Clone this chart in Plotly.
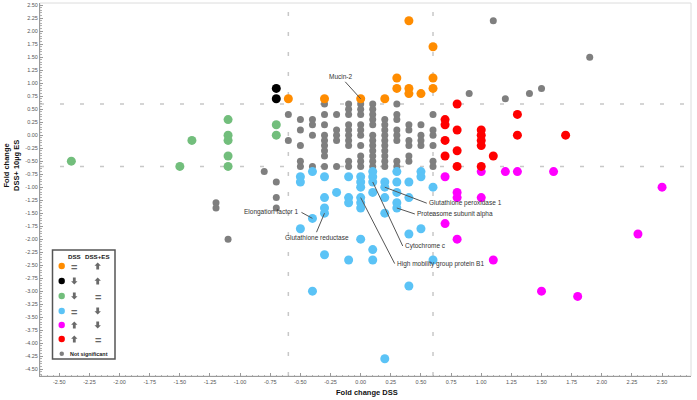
import plotly.graph_objects as go

# ---------------- data ----------------
gray_x = [-1.2, -1.2, -1.1, -0.8, -0.7, -0.7, -0.7, 0.9, 1.1, 1.2, 1.4, 1.5, 1.9,
          -0.6, -0.6,
          -0.5, -0.5, -0.5, -0.5, -0.5,
          -0.4, -0.4, -0.4, -0.4,
          -0.3, -0.3, -0.3, -0.3, -0.3, -0.3, -0.3, -0.3, -0.3,
          -0.2, -0.2, -0.2, -0.2, -0.2,
          -0.1, -0.1, -0.1, -0.1, -0.1, -0.1, -0.1, -0.1, -0.1, -0.1,
          0.0, 0.0, 0.0, 0.0, 0.0, 0.0, 0.0, 0.0, 0.0, 0.0,
          0.1, 0.1, 0.1, 0.1, 0.1, 0.1, 0.1, 0.1, 0.1, 0.1, 0.1, 0.1,
          0.2, 0.2, 0.2, 0.2, 0.2, 0.2, 0.2, 0.2, 0.2, 0.2,
          0.3, 0.3, 0.3, 0.3, 0.3, 0.3, 0.3, 0.3,
          0.4, 0.4, 0.4, 0.4, 0.4, 0.4,
          0.5, 0.5, 0.5, 0.5,
          0.6, 0.6, 0.6, 0.6, 0.6, 0.6]
gray_y = [-1.3, -1.4, -2.0, -0.7, -0.9, -1.2, -1.4, 0.8, 2.2, 0.7, 0.8, 0.9, 1.5,
          0.4, -0.1,
          0.3, 0.1, -0.2, -0.5, -0.6,
          0.3, 0.2, 0.0, -0.6,
          0.6, 0.4, 0.2, 0.0, -0.1, -0.2, -0.3, -0.4, -0.6,
          0.4, 0.1, 0.0, -0.1, -0.6,
          0.6, 0.5, 0.4, 0.2, 0.1, 0.0, -0.1, -0.2, -0.5, -0.6,
          0.6, 0.5, 0.4, 0.2, 0.1, 0.0, -0.2, -0.4, -0.5, -0.6,
          0.6, 0.5, 0.4, 0.3, 0.2, 0.0, -0.1, -0.2, -0.3, -0.4, -0.5, -0.6,
          0.3, 0.2, 0.1, 0.0, -0.1, -0.2, -0.3, -0.4, -0.5, -0.6,
          0.6, 0.4, 0.3, 0.1, 0.0, -0.1, -0.5, -0.6,
          0.2, 0.1, -0.1, -0.2, -0.4, -0.5,
          0.2, 0.0, -0.1, -0.2,
          0.4, 0.1, 0.0, -0.2, -0.5, -0.6]

orange_x = [0.4, 0.6, 0.3, 0.6, 0.3, 0.4, 0.4, 0.5, 0.6, 0.2, 0.0, -0.3, -0.6]
orange_y = [2.2, 1.7, 1.1, 1.1, 0.9, 0.9, 0.8, 0.8, 0.9, 0.7, 0.7, 0.7, 0.7]

black_x = [-0.7, -0.7]
black_y = [0.9, 0.7]

green_x = [-2.4, -1.5, -1.4, -1.1, -1.1, -1.1, -1.1, -1.1, -0.7, -0.7]
green_y = [-0.5, -0.6, -0.1, 0.3, 0.0, -0.1, -0.4, -0.6, 0.2, 0.0]

blue_x = [-0.5, -0.5, -0.4, -0.3, -0.1, 0.0, 0.0, 0.0, 0.1, 0.1, 0.1, 0.1, 0.2, 0.2,
          0.3, 0.3, 0.4, 0.5, 0.5, 0.6, -0.3, -0.2, -0.1, -0.1, 0.0, 0.0, 0.0, 0.2,
          0.3, 0.3, 0.3, 0.4, 0.2, -0.3, -0.3, -0.4, -0.5, 0.4, 0.5, 0.0, 0.1, -0.3,
          -0.1, 0.1, 0.6, -0.4, 0.4, 0.2]
blue_y = [-0.8, -0.9, -0.7, -0.8, -0.8, -0.8, -0.9, -1.0, -0.7, -0.8, -0.9, -1.1, -0.9, -1.0,
          -0.7, -0.9, -0.9, -0.7, -0.8, -1.0, -1.2, -1.1, -1.2, -1.3, -1.2, -1.3, -1.4, -1.2,
          -1.1, -1.3, -1.4, -1.2, -1.5, -1.4, -1.5, -1.6, -1.8, -1.9, -1.8, -2.0, -2.2, -2.3,
          -2.4, -2.4, -2.4, -3.0, -2.9, -4.3]

magenta_x = [0.7, 1.0, 1.2, 1.3, 1.6, 2.5, 0.8, 0.8, 1.0, 0.7, 0.8, 1.1, 2.3, 1.5, 1.8]
magenta_y = [-0.8, -0.7, -0.7, -0.7, -0.7, -1.0, -1.1, -1.2, -1.2, -1.7, -2.0, -2.4, -1.9, -3.0, -3.1]

red_x = [0.8, 0.7, 0.7, 0.8, 1.0, 1.3, 1.0, 1.3, 1.7, 0.7, 1.0, 1.0, 0.8, 0.7, 1.1, 0.8, 1.0]
red_y = [0.6, 0.3, 0.2, 0.1, 0.1, 0.4, 0.0, 0.0, 0.0, -0.1, -0.1, -0.2, -0.3, -0.4, -0.4, -0.6, -0.6]

label_names = ["Mucin-2", "Glutathione peroxidase 1", "Proteasome subunit alpha",
               "Cytochrome c", "High mobility group protein B1",
               "Elongation factor 1", "Glutathione reductase"]
label_x = [0.0, 0.2, 0.3, 0.1, 0.0, -0.4, -0.3]
label_y = [0.7, -1.0, -1.4, -0.9, -1.2, -1.6, -1.5]

threshold = 0.6

x_tick_vals = [round(-2.5 + 0.25 * i, 2) for i in range(21)]
x_tick_labels = ["%.2f" % v for v in x_tick_vals]
y_tick_vals = [round(-4.5 + 0.25 * i, 2) for i in range(29)]
y_tick_labels = ["%.2f" % v for v in y_tick_vals]

legend_colors = ["#FF8C00", "#000000", "#72BE7C", "#5BC3F6", "#FF00FF", "#FF0000"]
legend_dss = ["=", "down", "down", "=", "up", "up"]
legend_dsses = ["up", "up", "=", "down", "down", "="]

# ---------------- figure ----------------
FONT = "Liberation Sans, Arial, sans-serif"
fig = go.Figure()

fig.add_trace(go.Scatter(x=gray_x, y=gray_y, mode="markers",
                         marker=dict(size=7, color="#7F7F7F"), hoverinfo="x+y"))
for xs, ys, col in [(orange_x, orange_y, legend_colors[0]),
                    (black_x, black_y, legend_colors[1]),
                    (green_x, green_y, legend_colors[2]),
                    (blue_x, blue_y, legend_colors[3]),
                    (magenta_x, magenta_y, legend_colors[4]),
                    (red_x, red_y, legend_colors[5])]:
    fig.add_trace(go.Scatter(x=xs, y=ys, mode="markers",
                             marker=dict(size=9, color=col), hoverinfo="x+y"))

# layout geometry (pixels) for decorations
W, H = 697, 400
L, R, T, B = 40, 6, 3, 24
PW, PH = W - L - R, H - T - B


def X(px):
    return (px - L) / PW


def Y(py):
    return (H - B - py) / PH


def paper_text(px, py, text, size, color="#222", family=FONT, angle=0, xanchor="center"):
    return dict(x=X(px), y=Y(py), xref="paper", yref="paper", text=text,
                showarrow=False, xanchor=xanchor, yanchor="middle", textangle=angle,
                font=dict(family=family, size=size, color=color))


def block_arrow(cx, cy, direction):
    s = 1 if direction == "up" else -1
    pts = [(cx, cy - s * 3.6), (cx + 3.2, cy - s * 0.2), (cx + 1.4, cy - s * 0.2),
           (cx + 1.4, cy + s * 3.4), (cx - 1.4, cy + s * 3.4), (cx - 1.4, cy - s * 0.2),
           (cx - 3.2, cy - s * 0.2)]
    path = "M " + " L ".join("%.5f,%.5f" % (X(a), Y(b)) for a, b in pts) + " Z"
    return dict(type="path", xref="paper", yref="paper", path=path,
                fillcolor="#6a6a6a", line=dict(width=0), layer="above")


shapes = []
# light border at top / right
shapes.append(dict(type="rect", xref="paper", yref="paper", x0=0, x1=1, y0=0, y1=1,
                   line=dict(color="#dcdcdc", width=1), layer="below"))
# threshold dashed lines
for v in (-threshold, threshold):
    shapes.append(dict(type="line", xref="x", yref="paper", x0=v, x1=v, y0=0, y1=1,
                       line=dict(color="#c8c8c8", width=1.5, dash="4px,16px"), layer="below"))
    shapes.append(dict(type="line", xref="paper", yref="y", x0=0, x1=1, y0=v, y1=v,
                       line=dict(color="#c8c8c8", width=1.5, dash="4px,16px"), layer="below"))

annotations = []
# protein labels
lab_cfg = [  # ax, ay, xanchor, yanchor
    (-20, -22, "center", "middle"),
    (42, 16, "left", "middle"),
    (18, 6, "left", "middle"),
    (30, 64, "left", "middle"),
    (34, 66, "left", "middle"),
    (-11, -6, "right", "middle"),
    (-8, 19, "center", "top"),
]
for name, lx, ly, (ax, ay, xa, ya) in zip(label_names, label_x, label_y, lab_cfg):
    annotations.append(dict(x=lx, y=ly, xref="x", yref="y", text=name, showarrow=True,
                            arrowhead=0, arrowwidth=1, arrowcolor="#555555",
                            ax=ax, ay=ay, xanchor=xa, yanchor=ya,
                            font=dict(family=FONT, size=6.5, color="#333333")))

# legend box
shapes.append(dict(type="rect", xref="paper", yref="paper", x0=X(52.5), x1=X(115),
                   y0=Y(359), y1=Y(250), line=dict(color="#555555", width=1.5),
                   fillcolor="white", layer="above"))
annotations.append(paper_text(74, 256, "<b>DSS</b>", 6.2))
annotations.append(paper_text(97.7, 256, "<b>DSS+ES</b>", 6.2))
row_y = [266, 281, 296, 311, 325, 339]
for ry, col, s1, s2 in zip(row_y, legend_colors, legend_dss, legend_dsses):
    shapes.append(dict(type="circle", xref="paper", yref="paper",
                       x0=X(58.5), x1=X(64.9), y0=Y(ry + 3.2), y1=Y(ry - 3.2),
                       fillcolor=col, line=dict(width=0), layer="above"))
    for sx, s in ((74.3, s1), (97.7, s2)):
        if s == "=":
            annotations.append(paper_text(sx, ry + 0.5, "<b>=</b>", 11, "#666666"))
        else:
            shapes.append(block_arrow(sx, ry, s))
shapes.append(dict(type="circle", xref="paper", yref="paper",
                   x0=X(59.5), x1=X(64), y0=Y(356), y1=Y(351.5),
                   fillcolor="#7F7F7F", line=dict(width=0), layer="above"))
annotations.append(paper_text(67.5, 353.7, "<b>Not significant</b>", 5.4, xanchor="left"))

# axis titles
annotations.append(paper_text(367, 392, "<b>Fold change DSS</b>", 7.5, "#111"))
annotations.append(paper_text(12, 165, "<b>Fold change<br>DSS+ 10µg ES</b>", 7.5, "#111",
                              angle=-90))

axis_common = dict(showgrid=False, zeroline=False, showline=True, linecolor="#9a9a9a",
                   linewidth=1, ticks="inside", ticklen=3, tickcolor="#9a9a9a",
                   automargin=False,
                   tickfont=dict(family=FONT, size=5.5, color="#555555"),
                   minor=dict(ticks="inside", ticklen=1.5, dtick=0.05, tick0=0,
                              tickcolor="#b0b0b0"))

fig.update_layout(
    width=W, height=H, margin=dict(l=L, r=R, t=T, b=B, autoexpand=False),
    plot_bgcolor="white", paper_bgcolor="white", showlegend=False,
    xaxis=dict(range=[-2.66, 2.74], tickmode="array", tickvals=x_tick_vals,
               ticktext=x_tick_labels, **axis_common),
    yaxis=dict(range=[-4.631, 2.542], tickmode="array", tickvals=y_tick_vals,
               ticktext=y_tick_labels, **axis_common),
    shapes=shapes, annotations=annotations,
)

fig.write_html("out.html", config={"displayModeBar": False},
               post_script="document.body.style.margin='0';document.body.style.overflow='hidden';")
